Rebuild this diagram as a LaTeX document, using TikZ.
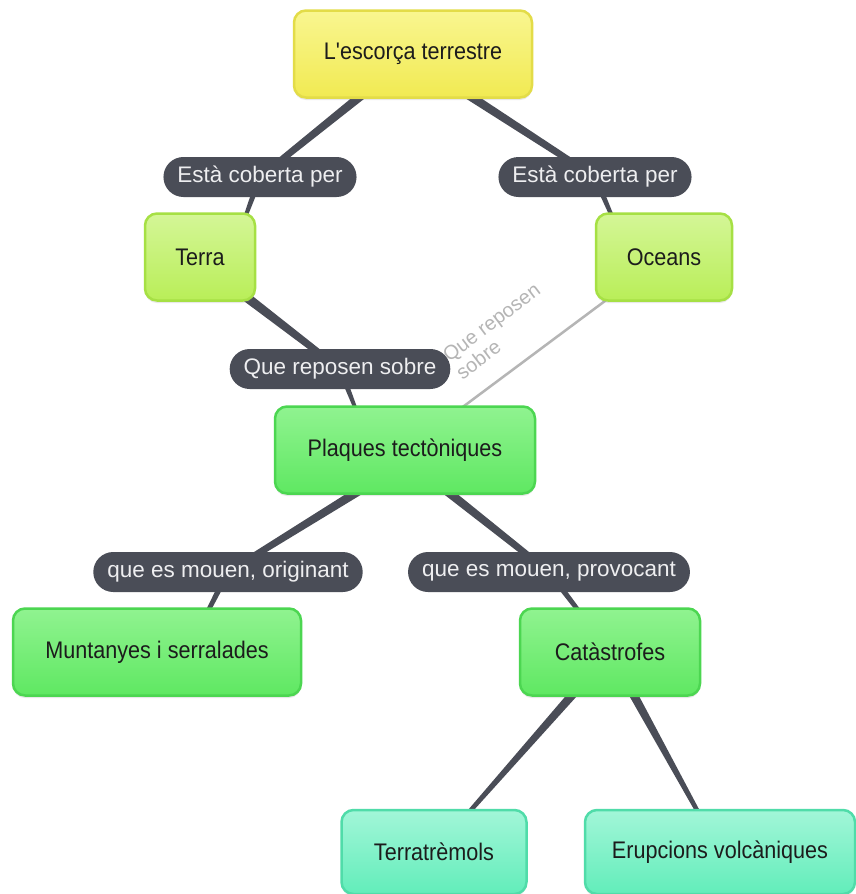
\documentclass[tikz,border=0pt]{standalone}
\usepackage{fontspec}
\setmainfont{Liberation Sans}
\newfontfamily\boxfont[FakeStretch=0.9]{Liberation Sans}
\usetikzlibrary{calc,shadows,backgrounds}

\definecolor{yelT}{HTML}{F9F690}
\definecolor{yelF}{HTML}{F1EA52}
\definecolor{yelB}{HTML}{E3DC48}
\definecolor{limeT}{HTML}{D4F697}
\definecolor{limeF}{HTML}{B9EE58}
\definecolor{limeB}{HTML}{A6E044}
\definecolor{grnT}{HTML}{90F390}
\definecolor{grnF}{HTML}{5FE862}
\definecolor{grnB}{HTML}{4CD651}
\definecolor{mintT}{HTML}{A2F6D8}
\definecolor{mintF}{HTML}{62EDBA}
\definecolor{mintB}{HTML}{50DCA9}
\definecolor{pill}{HTML}{4A4D57}
\definecolor{pilltext}{HTML}{EEEEF0}
\definecolor{inkdark}{HTML}{1C1C1C}
\definecolor{faint}{HTML}{B5B5B5}

\tikzset{
  concept/.style={rounded corners=12pt, line width=2.5pt, inner sep=0pt,
    minimum height=87pt, text=inkdark,
    font=\boxfont\fontsize{24}{28}\selectfont,
    drop shadow={shadow xshift=0pt, shadow yshift=-2.5pt, opacity=0.18}},
  yellowbox/.style={concept, draw=yelB, top color=yelT, bottom color=yelF},
  limebox/.style={concept, draw=limeB, top color=limeT, bottom color=limeF},
  greenbox/.style={concept, draw=grnB, top color=grnT, bottom color=grnF},
  mintbox/.style={concept, draw=mintB, top color=mintT, bottom color=mintF},
  linkpill/.style={fill=pill, text=pilltext, rounded corners=20pt,
    minimum height=40pt, inner xsep=14pt, inner ysep=0pt,
    font=\fontsize{22.5}{27}\selectfont},
  wire/.style={fill=pill},
  thinwire/.style={draw=faint, line width=2.5pt},
}

% tapered connector: half-width #3 at #1, half-width #4 at #2
\newcommand\taperline[4]{%
  \fill[wire] ($(#1)!#3!90:(#2)$) -- ($(#1)!#3!-90:(#2)$)
    -- ($(#2)!#4!90:(#1)$) -- ($(#2)!#4!-90:(#1)$) -- cycle;}

\begin{document}
\begin{tikzpicture}[x=1pt,y=-1pt]
\useasboundingbox (0,0) rectangle (855,894);

% concepts
\node[yellowbox, minimum width=238pt] (esc) at (413,54) {L'escorça terrestre};
\node[limebox, minimum width=110pt] (terra) at (200,257) {Terra};
\node[limebox, minimum width=136pt] (oceans) at (664,257) {Oceans};
\node[greenbox, minimum width=260pt] (plaques) at (405,450) {Plaques tectòniques};
\node[greenbox, minimum width=288pt] (munt) at (157,652) {Muntanyes i serralades};
\node[greenbox, minimum width=180pt] (cata) at (610,652) {Catàstrofes};
\node[mintbox, minimum width=185pt, minimum height=84pt] (terrat) at (434,852) {Terratrèmols};
\node[mintbox, minimum width=270pt, minimum height=84pt] (erup) at (720,852) {Erupcions volcàniques};

% linking phrases
\node[linkpill] (l1) at (260,177) {Està coberta per};
\node[linkpill] (l2) at (595,177) {Està coberta per};
\node[linkpill] (l3) at (340,369) {Que reposen sobre};
\node[linkpill] (l4) at (228,572) {que es mouen, originant};
\node[linkpill] (l5) at (549,572) {que es mouen, provocant};

\node[text=faint, rotate=37, align=left, inner sep=0pt,
      font=\fontsize{20}{22}\selectfont] (rot) at (498,331) {Que reposen\\sobre};

% connector ends inside the boxes
\coordinate (eS2) at ($(esc.center)+(-8,0)$);
\coordinate (tE) at ($(terra.center)+(39,-23)$);
\coordinate (oE) at ($(oceans.center)+(-44,-22)$);
\coordinate (tS) at ($(terra.center)+(28,26)$);
\coordinate (pE) at ($(plaques.center)+(-45,-30)$);
\coordinate (pS1) at ($(plaques.center)+(20,0)$);
\coordinate (pS2) at ($(plaques.center)+(-10,0)$);
\coordinate (mE) at ($(munt.center)+(30,0)$);

\begin{pgfonlayer}{background}
  \fill[white] (0,0) rectangle (855,894);
  \taperline{esc.center}{l1.center}{5pt}{3pt}
  \taperline{l1.center}{tE}{3pt}{1.5pt}
  \taperline{eS2}{l2.center}{5pt}{3pt}
  \taperline{l2.center}{oE}{3pt}{1.5pt}
  \taperline{tS}{l3.center}{5pt}{3pt}
  \taperline{l3.center}{pE}{3pt}{1.5pt}
  \draw[thinwire] (oceans.center) -- (plaques.center);
  \taperline{pS1}{l4.center}{5pt}{3pt}
  \taperline{l4.center}{mE}{3pt}{1.5pt}
  \taperline{pS2}{l5.center}{5pt}{3pt}
  \taperline{l5.center}{cata.center}{3pt}{1.5pt}
  \taperline{cata.center}{terrat.center}{5pt}{1.5pt}
  \taperline{cata.center}{erup.center}{5pt}{1.5pt}
\end{pgfonlayer}
\end{tikzpicture}
\end{document}
